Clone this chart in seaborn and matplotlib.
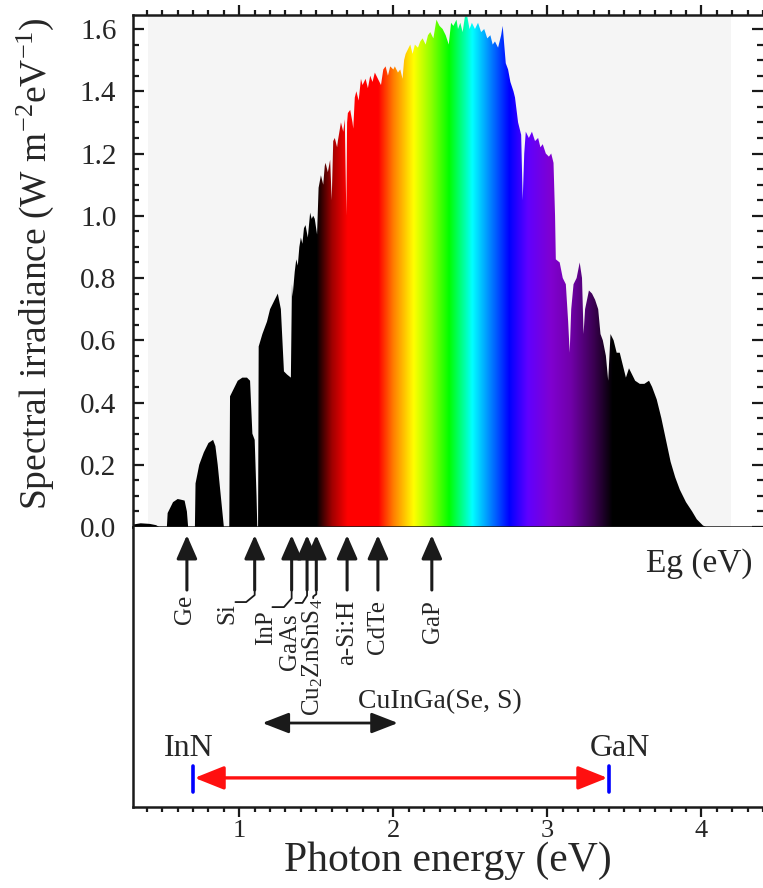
import numpy as np
import matplotlib
matplotlib.use("Agg")
import matplotlib.pyplot as plt
import seaborn as sns
from matplotlib.patches import Polygon
from matplotlib.colors import to_rgb
from matplotlib.ticker import MultipleLocator

# ---------------- data ----------------
energy = [0.31, 0.36, 0.42, 0.46, 0.48,
          0.53, 0.535, 0.55, 0.57, 0.60, 0.62, 0.645, 0.66, 0.668,
          0.712, 0.716, 0.74, 0.77, 0.80, 0.83, 0.845, 0.86, 0.88, 0.90,
          0.935, 0.94, 0.96, 0.99, 1.02, 1.05, 1.07, 1.085, 1.10, 1.112, 1.117,
          1.122, 1.126, 1.15, 1.18, 1.20, 1.22, 1.25, 1.27, 1.29, 1.31, 1.335, 1.342, 1.346, 1.36,
          1.37, 1.38, 1.39, 1.40, 1.41, 1.42, 1.43, 1.445, 1.46, 1.47, 1.48, 1.49, 1.505,
          1.515, 1.53, 1.545, 1.555, 1.56, 1.575, 1.59,
          1.60, 1.61, 1.62, 1.635, 1.64, 1.66, 1.675, 1.685, 1.695, 1.70, 1.705, 1.72,
          1.735, 1.74, 1.75, 1.76, 1.775, 1.79, 1.80, 1.82, 1.835, 1.85, 1.865, 1.88,
          1.90, 1.92, 1.935, 1.95, 1.965, 1.98, 2.00, 2.01,
          2.03, 2.045, 2.06, 2.07, 2.08, 2.10, 2.11, 2.125, 2.14, 2.16, 2.175, 2.19,
          2.21, 2.225, 2.24, 2.26, 2.28, 2.30, 2.32, 2.34, 2.36, 2.375, 2.39,
          2.41, 2.42, 2.435, 2.45, 2.465, 2.48, 2.495, 2.51, 2.53, 2.55, 2.57, 2.59,
          2.61, 2.63, 2.645, 2.66, 2.68, 2.70, 2.71, 2.73, 2.745, 2.76,
          2.78, 2.79, 2.80, 2.81, 2.83, 2.84, 2.85, 2.86, 2.88, 2.90, 2.92, 2.94,
          2.955, 2.97, 2.99, 3.01, 3.025, 3.04, 3.05, 3.055,
          3.08, 3.10, 3.12, 3.135, 3.145, 3.155, 3.17, 3.19, 3.21, 3.225, 3.235,
          3.245, 3.27, 3.29, 3.31, 3.33, 3.345, 3.36, 3.38, 3.395, 3.41, 3.43, 3.45,
          3.47, 3.49, 3.51, 3.53, 3.55, 3.57, 3.60, 3.63, 3.66, 3.68, 3.71, 3.74,
          3.77, 3.80, 3.83, 3.86, 3.90, 3.94, 3.97, 4.01, 4.03, 4.40]
irradiance = [0.008, 0.012, 0.010, 0.006, 0.0,
              0.0, 0.045, 0.06, 0.08, 0.09, 0.088, 0.085, 0.05, 0.0,
              0.0, 0.14, 0.20, 0.24, 0.27, 0.28, 0.26, 0.20, 0.10, 0.0,
              0.0, 0.42, 0.44, 0.47, 0.48, 0.48, 0.47, 0.30, 0.28, 0.10, 0.0,
              0.0, 0.58, 0.62, 0.66, 0.70, 0.72, 0.75, 0.70, 0.50, 0.49, 0.48, 0.78, 0.74, 0.82,
              0.86, 0.84, 0.90, 0.93, 0.91, 0.96, 0.97, 0.93, 1.01, 0.99, 1.00, 0.99, 0.94,
              1.09, 1.13, 1.10, 1.16, 1.17, 1.14, 1.18,
              1.05, 1.24, 1.25, 1.22, 1.24, 1.30, 1.27, 1.31, 1.00, 1.30, 1.33, 1.34,
              1.30, 1.28, 1.38, 1.40, 1.37, 1.44, 1.42, 1.44, 1.41, 1.45, 1.43, 1.46,
              1.44, 1.42, 1.47, 1.48, 1.45, 1.48, 1.47, 1.48,
              1.46, 1.47, 1.44, 1.50, 1.52, 1.54, 1.55, 1.52, 1.55, 1.54, 1.56, 1.57,
              1.55, 1.58, 1.59, 1.57, 1.63, 1.61, 1.60, 1.58, 1.55, 1.62, 1.61,
              1.63, 1.60, 1.62, 1.59, 1.64, 1.64, 1.60, 1.62, 1.60, 1.62, 1.59, 1.60,
              1.57, 1.58, 1.55, 1.56, 1.54, 1.58, 1.61, 1.49, 1.47, 1.43,
              1.40, 1.38, 1.34, 1.30, 1.26, 1.05, 1.20, 1.27, 1.25, 1.27, 1.24, 1.25,
              1.22, 1.23, 1.20, 1.19, 1.20, 1.17, 1.00, 0.86,
              0.85, 0.80, 0.78, 0.66, 0.56, 0.70, 0.78, 0.80, 0.85, 0.80, 0.62,
              0.70, 0.76, 0.75, 0.73, 0.70, 0.62, 0.60, 0.55, 0.47, 0.62, 0.60, 0.56,
              0.56, 0.52, 0.48, 0.51, 0.49, 0.47, 0.46, 0.46, 0.47, 0.45, 0.41, 0.35,
              0.28, 0.21, 0.16, 0.12, 0.08, 0.05, 0.025, 0.005, 0.0, 0.0]

materials = ["Ge", "Si", "InP", "GaAs", r"Cu$_2$ZnSnS$_4$", "a-Si:H", "CdTe", "GaP"]
gap_eV = [0.66, 1.10, 1.34, 1.44, 1.50, 1.70, 1.90, 2.25]
label_eV = [0.65, 0.92, 1.175, 1.33, 1.475, 1.70, 1.90, 2.26]
label_top = [0.757, 0.729, 0.704, 0.690, 0.746, 0.739, 0.739, 0.739]
cigs_range = [1.15, 2.03]
inn_gan_eV = [0.70, 3.40]

# colour of light versus photon energy (style only)
spectrum_stops = [(0.0, "#000000"), (1.50, "#000000"), (1.60, "#a00000"),
                  (1.70, "#ff0000"), (1.90, "#ff0000"), (2.00, "#ff8000"),
                  (2.13, "#ffff00"), (2.24, "#90ff00"), (2.36, "#00ff00"),
                  (2.51, "#00ffff"), (2.60, "#00a0ff"), (2.75, "#0000ff"),
                  (2.87, "#6000ff"), (3.02, "#8000d0"), (3.15, "#7000a8"),
                  (3.30, "#3a0050"), (3.42, "#000000"), (5.0, "#000000")]

# ---------------- style ----------------
sns.set_theme(style="ticks")
plt.rcParams["font.family"] = ["Liberation Serif", "DejaVu Serif"]
plt.rcParams["mathtext.fontset"] = "custom"
plt.rcParams["mathtext.rm"] = "Liberation Serif"
plt.rcParams["mathtext.it"] = "Liberation Serif:italic"
plt.rcParams["axes.unicode_minus"] = False

XMIN, XMAX = 0.31, 4.40
YMAX = 1.645

fig = plt.figure(figsize=(7.63, 8.88), dpi=100)
ax = fig.add_axes([0.1743, 0.4065, 0.8257, 0.5766])
ax2 = fig.add_axes([0.1743, 0.0912, 0.8257, 0.3153])
for a in (ax, ax2):
    a.set_facecolor("white")
    a.set_xlim(XMIN, XMAX)

# ---------------- upper panel: spectrum ----------------
ax.set_ylim(0, YMAX)
ax.axvspan(0.41, 4.19, color="#f5f5f5", zorder=0, lw=0)

grid = np.linspace(XMIN, XMAX, 1500)
se = [s[0] for s in spectrum_stops]
rgb = np.array([to_rgb(s[1]) for s in spectrum_stops])
cols = np.stack([np.interp(grid, se, rgb[:, k]) for k in range(3)], axis=-1)
im = ax.imshow(cols[np.newaxis, :, :], extent=[XMIN, XMAX, 0, YMAX],
               aspect="auto", origin="lower", zorder=2, interpolation="bilinear")
verts = [(energy[0], 0)] + list(zip(energy, irradiance)) + [(energy[-1], 0)]
poly = Polygon(verts, closed=True, transform=ax.transData,
               facecolor="none", edgecolor="none")
ax.add_patch(poly)
im.set_clip_path(poly)
ax.set_xlim(XMIN, XMAX)
ax.set_ylim(0, YMAX)

ax.set_ylabel(r"Spectral irradiance (W m$^{\mathregular{-2}}$eV$^{\mathregular{-1}}$)",
              fontsize=27)
ax.yaxis.set_label_coords(-0.122, 0.515)
ax.yaxis.set_major_locator(MultipleLocator(0.2))
ax.yaxis.set_minor_locator(MultipleLocator(0.05))
ax.xaxis.set_major_locator(MultipleLocator(1))
ax.xaxis.set_minor_locator(MultipleLocator(0.1))
ax.tick_params(axis="y", which="both", direction="in", left=True, right=True,
               labelright=False, labelsize=21, pad=12, width=1.6, color="k")
ax.tick_params(axis="y", which="major", length=8)
ax.tick_params(axis="y", which="minor", length=4)
ax.tick_params(axis="x", which="both", direction="out", top=True, bottom=True,
               labelbottom=False, labeltop=False, width=1.6, color="k")
ax.tick_params(axis="x", which="major", length=7)
ax.tick_params(axis="x", which="minor", length=3.5)
for side in ("top", "left", "bottom"):
    ax.spines[side].set_linewidth(1.8)
    ax.spines[side].set_color("k")
ax.spines["right"].set_visible(False)

# ---------------- lower panel: band gaps ----------------
ax2.set_ylim(0, 1)
ax2.spines["top"].set_visible(False)
ax2.spines["right"].set_visible(False)
for side in ("left", "bottom"):
    ax2.spines[side].set_linewidth(1.8)
    ax2.spines[side].set_color("k")
ax2.set_yticks([])
ax2.xaxis.set_major_locator(MultipleLocator(1))
ax2.xaxis.set_minor_locator(MultipleLocator(0.1))
ax2.tick_params(axis="x", which="both", direction="out", labelsize=19,
                pad=2, width=1.6, color="k")
ax2.tick_params(axis="x", which="major", length=7)
ax2.tick_params(axis="x", which="minor", length=3.5)
ax2.set_xticks([1, 2, 3, 4])
ax2.set_xticklabels(["1", "2", "3", "4"])
ax2.set_xlabel("Photon energy (eV)", fontsize=30, labelpad=0)

TIP, TAIL = 0.971, 0.775
for name, eg, le, lt in zip(materials, gap_eV, label_eV, label_top):
    ax2.annotate("", xy=(eg, TIP), xytext=(eg, TAIL),
                 arrowprops=dict(arrowstyle="-|>,head_length=0.8,head_width=0.35",
                                 color="k", lw=2.2, mutation_scale=18,
                                 shrinkA=0, shrinkB=0))
    ax2.text(le, lt, name, rotation=90, ha="center", va="top", fontsize=18)

connectors = {
    "Si":   ([1.10, 1.10, 1.045, 0.975], [TAIL, 0.757, 0.732, 0.732]),
    "InP":  ([1.34, 1.34, 1.29, 1.215], [TAIL, 0.745, 0.714, 0.714]),
    "GaAs": ([1.44, 1.44, 1.41, 1.365], [TAIL, 0.755, 0.729, 0.729]),
    "CZTS": ([1.50, 1.50, 1.48, 1.48], [TAIL, 0.760, 0.752, 0.746]),
}
for xs, ys in connectors.values():
    sns.lineplot(x=xs, y=ys, ax=ax2, sort=False, estimator=None,
                 color="k", lw=1.3)

ax2.text(4.33, 0.871, "Eg (eV)", ha="right", va="center", fontsize=24)

ax2.annotate("", xy=(cigs_range[0], 0.30), xytext=(cigs_range[1], 0.30),
             arrowprops=dict(arrowstyle="<|-|>,head_length=0.9,head_width=0.35",
                             color="k", lw=2.0, mutation_scale=18,
                             shrinkA=0, shrinkB=0))
ax2.text(2.30, 0.375, "CuInGa(Se, S)", ha="center", va="center", fontsize=20)

for eg in inn_gan_eV:
    sns.lineplot(x=[eg, eg], y=[0.054, 0.146], ax=ax2, sort=False,
                 estimator=None, color="#0000ff", lw=2.6)
ax2.annotate("", xy=(inn_gan_eV[0] + 0.01, 0.104), xytext=(inn_gan_eV[1] - 0.01, 0.104),
             arrowprops=dict(arrowstyle="<|-|>,head_length=1.0,head_width=0.4",
                             color="#ff1010", lw=2.4, mutation_scale=18,
                             shrinkA=0, shrinkB=0))
ax2.text(0.67, 0.21, "InN", ha="center", va="center", fontsize=23)
ax2.text(3.47, 0.21, "GaN", ha="center", va="center", fontsize=23)
ax2.set_ylim(0, 1)
ax2.set_xlim(XMIN, XMAX)

fig.savefig("out.png", dpi=100, facecolor="white")
